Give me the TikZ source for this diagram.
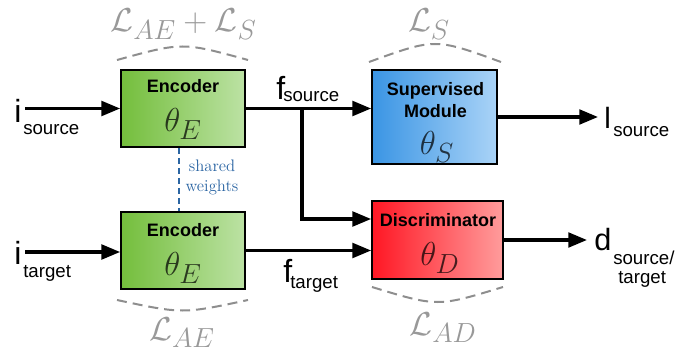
\documentclass[tikz,border=0pt]{standalone}
\usepackage{fontspec}
\newfontfamily\arial{Liberation Sans}
\usetikzlibrary{arrows.meta,calc}
\definecolor{gLeft}{HTML}{74BE3C}
\definecolor{gRight}{HTML}{BCE2A4}
\definecolor{bLeft}{HTML}{3A95E4}
\definecolor{bRight}{HTML}{AAD3F7}
\definecolor{rLeft}{HTML}{FF1724}
\definecolor{rRight}{HTML}{FF9C9C}
\definecolor{lossgray}{HTML}{8E8E8E}
\definecolor{sharedblue}{HTML}{2B65A3}
\tikzset{
  box/.style={draw=black, line width=1.3pt, inner sep=0pt},
  boxtitle/.style={font=\arial\bfseries\fontsize{13.5}{15}\selectfont, anchor=base, inner sep=0pt},
  param/.style={font=\fontsize{24.88}{28}\selectfont, anchor=base, inner sep=0pt, text=black, text opacity=0.72},
  losslbl/.style={font=\fontsize{24.88}{28}\selectfont, anchor=base, inner sep=0pt, text=lossgray!90},
  lossarc/.style={draw=lossgray, line width=1.5pt, dash pattern=on 7.5pt off 4.5pt},
  arr/.style={line width=2.3pt, -{Triangle[length=14pt,width=11pt]}},
  mainlet/.style={font=\arial\fontsize{24}{26}\selectfont, anchor=base west, inner sep=0pt},
  sublet/.style={font=\arial\fontsize{14}{16}\selectfont, anchor=base west, inner sep=0pt},
}
\begin{document}
\begin{tikzpicture}[x=0.75pt,y=-0.75pt]
\useasboundingbox (0,0) rectangle (693,356);

% boxes
\node[box, minimum width=93pt, minimum height=57.75pt, left color=gLeft, right color=gRight] (enc1) at (183,108.5) {};
\node[box, minimum width=93pt, minimum height=57.75pt, left color=gLeft, right color=gRight] (enc2) at (183,250.5) {};
\node[box, minimum width=93.75pt, minimum height=70.5pt, left color=bLeft, right color=bRight] (sup) at (434.5,117) {};
\node[box, minimum width=98.25pt, minimum height=58.5pt, left color=rLeft, right color=rRight] (disc) at (437.5,240) {};

% box texts
\node[boxtitle] (enc1t) at (183,93) {Encoder};
\node[param] (enc1p) at (183,132) {$\theta_E$};
\node[boxtitle] (enc2t) at (183,237) {Encoder};
\node[param] (enc2p) at (183,276) {$\theta_E$};
\node[boxtitle] (supt1) at (435.5,96) {Supervised};
\node[boxtitle] (supt2) at (435.5,118) {Module};
\node[param] (supp) at (437,155) {$\theta_S$};
\node[boxtitle] (disct) at (438,227) {Discriminator};
\node[param] (discp) at (440,266) {$\theta_D$};

% shared weights
\draw[sharedblue, line width=1.5pt, dash pattern=on 4.5pt off 3pt] ($(enc1.south)+(-4,0)$) -- ($(enc2.north)+(-4,0)$);
\node[font=\fontsize{12.5}{15}\selectfont, text=sharedblue, align=center, inner sep=0pt] (shared) at (212,177) {shared\\weights};

% inputs
\coordinate (isrcStart) at (25,108.5);
\coordinate (itgtStart) at (25,252);
\draw[arr] (isrcStart) -- (enc1.west);
\draw[arr] (itgtStart) -- ($(enc2.west)+(0,1.5)$);
\node[mainlet] (isrc) at (14,123) {i};
\node[sublet] (isrcs) at (23,135) {source};
\node[mainlet] (itgt) at (14,265) {i};
\node[sublet] (itgts) at (23,277) {target};

% features
\coordinate (br) at (302,108.5);
\draw[arr] (enc1.east) -- (enc1.east -| sup.west);
\draw[arr] (br) |- ($(disc.west)+(0,-21)$);
\draw[arr] (enc2.east) -- (enc2.east -| disc.west);
\node[mainlet] (fsrc) at (276,100) {f};
\node[sublet] (fsrcs) at (283,102) {source};
\node[mainlet] (ftgt) at (283,282) {f};
\node[sublet] (ftgts) at (290,288) {target};

% outputs
\coordinate (lEnd) at (598,117);
\coordinate (dEnd) at (587,240);
\draw[arr] (sup.east) -- (lEnd);
\draw[arr] (disc.east) -- (dEnd);
\node[mainlet, font=\arial\fontsize{22}{24}\selectfont] (lsrc) at (604,129) {l};
\node[sublet] (lsrcs) at (613,137) {source};
\node[mainlet, font=\arial\fontsize{23}{25}\selectfont] (dout) at (594,251) {d};
\node[sublet] (douts1) at (613,264) {source/};
\node[sublet] (douts2) at (618,283) {target};

% losses
\draw[lossarc] (117,60) .. controls (182.5,42) .. (248,60);
\draw[lossarc] (369,62) .. controls (435,38) .. (501,62);
\draw[lossarc] (117,300) .. controls (182.5,314) .. (248,300);
\draw[lossarc] (372,287) .. controls (437.5,307) .. (503,287);
\node[losslbl] (lossTop) at (183.5,32) {$\mathcal{L}_{AE}+\mathcal{L}_S$};
\node[losslbl] (lossSup) at (429,32) {$\mathcal{L}_S$};
\node[losslbl] (lossEnc) at (182,340) {$\mathcal{L}_{AE}$};
\node[losslbl] (lossDisc) at (443,335) {$\mathcal{L}_{AD}$};
\end{tikzpicture}
\end{document}
